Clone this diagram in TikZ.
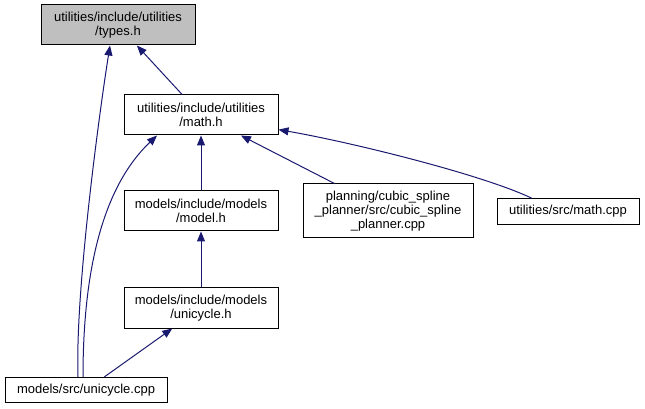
\documentclass[tikz,border=0pt]{standalone}
\usepackage{fontspec}
\setmainfont{Liberation Sans}
\usetikzlibrary{arrows.meta}
\definecolor{midnightblue}{RGB}{25,25,112}
\definecolor{headergray}{RGB}{191,191,191}

\begin{document}
\begin{tikzpicture}[x=0.75pt,y=-0.75pt,
	file_node/.style={draw=black,line width=0.75pt,fill=white,inner sep=0pt,align=center,
		font=\fontsize{9.75}{10.5}\selectfont,minimum width=115.5pt,minimum height=30pt},
	dep_edge/.style={draw=midnightblue,line width=0.75pt,-{Triangle[length=7.5pt,width=6pt]}}]
	\useasboundingbox (0,0) rectangle (645,409);

	\node[file_node,fill=headergray] (types) at (118,25) {utilities/include/utilities\\/types.h};
	\node[file_node] (math) at (201,115) {utilities/include/utilities\\/math.h};
	\node[file_node] (model) at (201,211) {models/include/models\\/model.h};
	\node[file_node] (uh) at (201,308) {models/include/models\\/unicycle.h};
	\node[file_node,minimum width=121.5pt,minimum height=19pt] (ucpp) at (86,390) {models/src/unicycle.cpp};
	\node[file_node,minimum width=127.5pt,minimum height=40.5pt] (cubic) at (388,211) {planning/cubic\_spline\\\_planner/src/cubic\_spline\\\_planner.cpp};
	\node[file_node,minimum width=106.5pt,minimum height=19pt] (mcpp) at (568,211.5) {utilities/src/math.cpp};

	\draw[dep_edge] (math) -- (types);
	\draw[dep_edge] ([xshift=-6pt]ucpp.north) .. controls +(-3,-87) and +(-10,63) .. ([xshift=-6pt]types.south);
	\draw[dep_edge] ([xshift=-2.25pt]ucpp.north) .. controls +(0,-140) and +(-40,38) .. ([xshift=-33pt]math.south);
	\draw[dep_edge] (model) -- (math);
	\draw[dep_edge] (cubic) -- (math);
	\draw[dep_edge] ([xshift=-27pt]mcpp.north) .. controls +(-50,-24) and +(70,12) .. ([yshift=-11pt]math.east);
	\draw[dep_edge] (uh) -- (model);
	\draw[dep_edge] (ucpp) -- (uh);
\end{tikzpicture}
\end{document}
